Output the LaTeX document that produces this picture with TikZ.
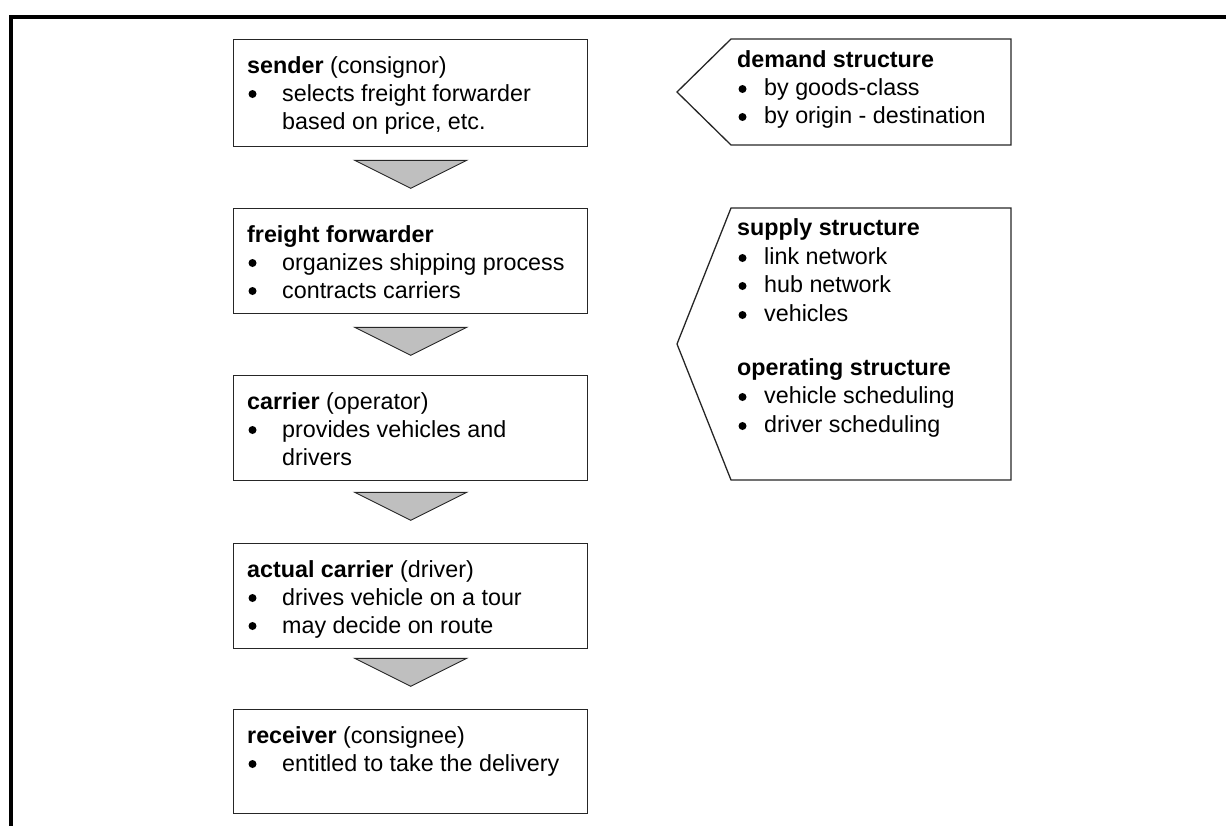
\documentclass[tikz,border=0pt]{standalone}
\usepackage{fontspec}
\setmainfont{Liberation Sans}
\usetikzlibrary{calc}
\begin{document}
\begin{tikzpicture}[x=1pt,y=-1pt,
  font=\fontsize{23.3}{28}\selectfont,
  box/.style={draw=black!85, line width=1.3pt, minimum width=354pt, minimum height=106pt, anchor=north west, inner sep=0pt},
  tx/.style={anchor=base west, inner sep=0pt},
  bul/.style={circle, fill=black, inner sep=0pt, minimum size=8pt},
  arrowtri/.style={draw=black!85, line width=0.9pt, fill=black!25, line join=miter},
  pent/.style={draw=black!85, line width=1.3pt},
  frame/.style={draw=black, line width=3.2pt}]
\useasboundingbox (0,0) rectangle (1226,825);
% outer frame
\draw[frame] (11,840) -- (11,17) -- (1240,17);

% left column boxes
\node[box, minimum height=107pt] (sender) at (233,39) {};
\node[box, minimum height=105pt] (freight) at (233,208) {};
\node[box, minimum height=105pt] (carrier) at (233,375) {};
\node[box, minimum height=105pt] (actual) at (233,543) {};
\node[box, minimum height=104pt] (receiver) at (233,709) {};

% flow triangles between boxes
\draw[arrowtri] ($(sender.south)+(-56,13)$) -- ($(sender.south)+(56,13)$) -- ($(sender.south)+(0,41)$) -- cycle;
\draw[arrowtri] ($(freight.south)+(-56,13)$) -- ($(freight.south)+(56,13)$) -- ($(freight.south)+(0,41)$) -- cycle;
\draw[arrowtri] ($(carrier.south)+(-56,11)$) -- ($(carrier.south)+(56,11)$) -- ($(carrier.south)+(0,39)$) -- cycle;
\draw[arrowtri] ($(actual.south)+(-56,9)$) -- ($(actual.south)+(56,9)$) -- ($(actual.south)+(0,37)$) -- cycle;

% right column pointed boxes
\draw[pent] (731,39) -- (1011,39) -- (1011,145) -- (731,145) -- (677,92) -- cycle;
\draw[pent] (731,208) -- (1011,208) -- (1011,480) -- (731,480) -- (677,344) -- cycle;

% sender text
\node[tx] (s0) at (247,73) {\textbf{sender} (consignor)};
\node[bul] (s1b) at (252.5,94) {};
\node[tx] (s1) at (282,101) {selects freight forwarder};
\node[tx] (s2) at (282,129) {based on price, etc.};
% freight forwarder text
\node[tx] (f0) at (247,242) {\textbf{freight forwarder}};
\node[bul] (f1b) at (252.5,263) {};
\node[tx] (f1) at (282,270) {organizes shipping process};
\node[bul] (f2b) at (252.5,291) {};
\node[tx] (f2) at (282,298) {contracts carriers};
% carrier text
\node[tx] (c0) at (247,409) {\textbf{carrier} (operator)};
\node[bul] (c1b) at (252.5,430) {};
\node[tx] (c1) at (282,437) {provides vehicles and};
\node[tx] (c2) at (282,465) {drivers};
% actual carrier text
\node[tx] (a0) at (247,577) {\textbf{actual carrier} (driver)};
\node[bul] (a1b) at (252.5,598) {};
\node[tx] (a1) at (282,605) {drives vehicle on a tour};
\node[bul] (a2b) at (252.5,626) {};
\node[tx] (a2) at (282,633) {may decide on route};
% receiver text
\node[tx] (r0) at (247,743) {\textbf{receiver} (consignee)};
\node[bul] (r1b) at (252.5,764) {};
\node[tx] (r1) at (282,771) {entitled to take the delivery};

% demand structure text
\node[tx] (d0) at (737,67) {\textbf{demand structure}};
\node[bul] (d1b) at (742.5,89) {};
\node[tx] (d1) at (764,95) {by goods-class};
\node[bul] (d2b) at (742.5,117) {};
\node[tx] (d2) at (764,123) {by origin - destination};

% supply / operating structure text
\node[tx] (u0) at (737,235) {\textbf{supply structure}};
\node[bul] (u1b) at (742.5,258) {};
\node[tx] (u1) at (764,264) {link network};
\node[bul] (u2b) at (742.5,286) {};
\node[tx] (u2) at (764,292) {hub network};
\node[bul] (u3b) at (742.5,315) {};
\node[tx] (u3) at (764,321) {vehicles};
\node[tx] (o0) at (737,375) {\textbf{operating structure}};
\node[bul] (o1b) at (742.5,397) {};
\node[tx] (o1) at (764,403) {vehicle scheduling};
\node[bul] (o2b) at (742.5,426) {};
\node[tx] (o2) at (764,432) {driver scheduling};
\end{tikzpicture}
\end{document}
